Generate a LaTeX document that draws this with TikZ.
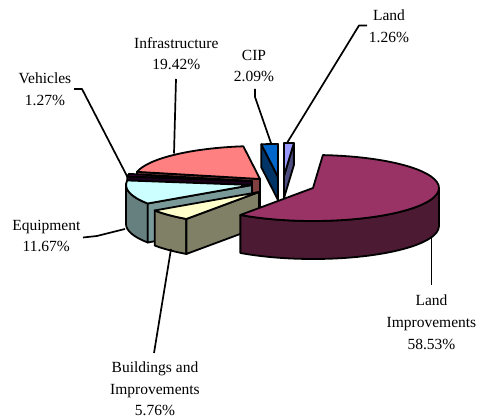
\documentclass[tikz,border=0pt]{standalone}
\usepackage{fontspec}
\setmainfont{Liberation Serif}
\usetikzlibrary{calc}

\definecolor{landTop}{HTML}{9999FF}
\definecolor{landSide}{HTML}{4D4D80}
\definecolor{liTop}{HTML}{993366}
\definecolor{liSide}{HTML}{4D1A33}
\definecolor{bldTop}{HTML}{FFFFCC}
\definecolor{bldSide}{HTML}{808066}
\definecolor{eqTop}{HTML}{CCFFFF}
\definecolor{eqSide}{HTML}{668080}
\definecolor{eqCut}{HTML}{7A9999}
\definecolor{vehTop}{HTML}{4A004A}
\definecolor{vehSide}{HTML}{1A001A}
\definecolor{infTop}{HTML}{FF8080}
\definecolor{infSide}{HTML}{804040}
\definecolor{cipTop}{HTML}{0066CC}
\definecolor{cipSide}{HTML}{003366}

\tikzset{
  face/.style={draw=black, line width=1.8pt, line join=round},
  leader/.style={draw=black, line width=1.7pt, line join=round},
  lbl/.style={align=center, inner sep=0pt, anchor=north,
              font=\fontsize{15.5}{21.7}\selectfont},
}

\begin{document}
\begin{tikzpicture}[x=1pt,y=1pt]
\useasboundingbox (0,0) rectangle (480,-419);

% ---------- Land (back) ----------
\coordinate (cLand) at (284,-176);
\coordinate (lA) at ($(cLand)+(90:126pt and 33pt)$);
\coordinate (lB) at ($(cLand)+(85.5:126pt and 33pt)$);
\filldraw[face, fill=landSide] (cLand) -- (lB) -- ++(0,-22) -- ($(cLand)+(0,-22)$) -- cycle;
\filldraw[face, fill=landTop] (cLand) -- (lA)
  arc[start angle=90, end angle=85.5, x radius=126pt, y radius=33pt] -- cycle;

% ---------- CIP ----------
\coordinate (cCip) at (278,-177);
\coordinate (cA) at ($(cCip)+(97.6:126pt and 33pt)$);
\coordinate (cB) at ($(cCip)+(90:126pt and 33pt)$);
\filldraw[face, fill=cipSide] (cCip) -- (cA) -- ++(0,-23) -- ($(cCip)+(0,-23)$) -- cycle;
\filldraw[face, fill=cipTop] (cCip) -- (cA)
  arc[start angle=97.6, end angle=90, x radius=126pt, y radius=33pt] -- cycle;

% ---------- Infrastructure ----------
\coordinate (cInf) at (260,-179);
\coordinate (iA) at ($(cInf)+(97.6:126pt and 33pt)$);
\coordinate (iB) at ($(cInf)+(167.5:126pt and 33pt)$);
\filldraw[face, fill=infSide] (cInf) -- (iB) -- ++(0,-33) -- ($(cInf)+(0,-33)$) -- cycle;
\filldraw[face, fill=infTop] (cInf) -- (iA)
  arc[start angle=97.6, end angle=167.5, x radius=126pt, y radius=33pt] -- cycle;

% ---------- Vehicles ----------
\coordinate (cVeh) at (252,-181);
\coordinate (vA) at ($(cVeh)+(167.5:126pt and 33pt)$);
\coordinate (vB) at ($(cVeh)+(172.1:126pt and 33pt)$);
\filldraw[face, fill=vehSide] (cVeh) -- (vB) -- ++(0,-34) -- ($(cVeh)+(0,-34)$) -- cycle;
\filldraw[face, fill=vehTop] (cVeh) -- (vA)
  arc[start angle=167.5, end angle=172.1, x radius=126pt, y radius=33pt] -- cycle;

% ---------- Equipment ----------
\coordinate (cEq) at (252,-185);
\coordinate (eA) at ($(cEq)+(172.1:126pt and 33pt)$);
\coordinate (eM) at ($(cEq)+(180:126pt and 33pt)$);
\coordinate (eB) at ($(cEq)+(214.1:126pt and 33pt)$);
\filldraw[face, fill=eqSide] (eM)
  arc[start angle=180, end angle=214.1, x radius=126pt, y radius=33pt] -- ++(0,-39)
  arc[start angle=214.1, end angle=180, x radius=126pt, y radius=33pt] -- cycle;
\filldraw[face, fill=eqCut] (cEq) -- (eB) -- ++(0,-39) -- ($(cEq)+(0,-39)$) -- cycle;
\filldraw[face, fill=eqTop] (cEq) -- (eA)
  arc[start angle=172.1, end angle=214.1, x radius=126pt, y radius=33pt] -- cycle;

% ---------- Buildings and Improvements ----------
\coordinate (cBld) at (259,-192);
\coordinate (bA) at ($(cBld)+(214.1:126pt and 33pt)$);
\coordinate (bB) at ($(cBld)+(234.8:126pt and 33pt)$);
\filldraw[face, fill=bldSide] (bA)
  arc[start angle=214.1, end angle=234.8, x radius=126pt, y radius=33pt] -- ++(0,-35)
  arc[start angle=234.8, end angle=214.1, x radius=126pt, y radius=33pt] -- cycle;
\filldraw[face, fill=bldSide] (cBld) -- (bB) -- ++(0,-35) -- ($(cBld)+(0,-35)$) -- cycle;
\filldraw[face, fill=bldTop] (cBld) -- (bA)
  arc[start angle=214.1, end angle=234.8, x radius=126pt, y radius=33pt] -- cycle;

% ---------- Land Improvements ----------
\coordinate (cLI) at (313,-188);
\coordinate (liA) at ($(cLI)+(234.8:126pt and 33pt)$);
\filldraw[face, fill=liSide] (liA)
  arc[start angle=234.8, end angle=360, x radius=126pt, y radius=33pt] -- ++(0,-38)
  arc[start angle=360, end angle=234.8, x radius=126pt, y radius=33pt] -- cycle;
\filldraw[face, fill=liTop] (cLI) -- (liA)
  arc[start angle=234.8, end angle=445.5, x radius=126pt, y radius=33pt] -- cycle;

% ---------- Labels ----------
\node[lbl] (tLand) at (389,-9.7) {Land\\1.26\%};
\node[lbl] (tInf) at (176.3,-37) {Infrastructure\\19.42\%};
\node[lbl] (tCip) at (254,-49.7) {CIP\\2.09\%};
\node[lbl] (tVeh) at (45,-72.4) {Vehicles\\1.27\%};
\node[lbl] (tEq) at (46.3,-219.7) {Equipment\\11.67\%};
\node[lbl] (tBld) at (155,-361.4) {Buildings and\\Improvements\\5.76\%};
\node[lbl] (tLI) at (431.5,-294.7) {Land\\Improvements\\58.53\%};

% ---------- Leaders ----------
\coordinate (kLand) at (367,-25.5);
\coordinate (kCip) at (255,-89);
\coordinate (kInf) at (176,-79);
\coordinate (kVeh) at (74,-89);
\coordinate (kEq) at (83,-237.5);
\coordinate (kBld) at (154,-353);
\coordinate (kLI) at (431.5,-285);
\coordinate (pInf) at (174,-153.5);
\coordinate (pEq) at (125,-229);
\coordinate (pBld) at (171,-249);
\coordinate (pLI) at (431.5,-236);

\draw[leader] (kLand) -- ++(-8,0) -- ($(lA)!0.3!(lB)$);
\draw[leader] (kCip) -- ++(0,-8) -- ($(cA)!0.6!(cB)$);
\draw[leader] (kInf) -- (pInf);
\draw[leader] (kVeh) -- ++(8,0) -- (vB);
\draw[leader] (kEq) -- (97,-236) -- (pEq);
\draw[leader] (kBld) -- (pBld);
\draw[leader] (kLI) -- (pLI);
\end{tikzpicture}
\end{document}
